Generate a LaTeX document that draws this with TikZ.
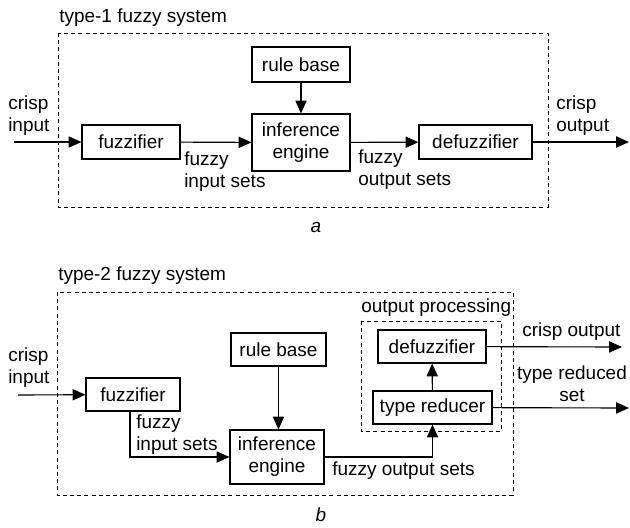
\documentclass[tikz,border=0pt]{standalone}
\usepackage{fontspec}
\setmainfont{Liberation Sans}
\usetikzlibrary{arrows.meta}
\tikzset{
  blk/.style={draw,line width=0.8pt,inner sep=0pt,align=center},
  dbox/.style={draw,line width=0.65pt,dash pattern=on 1mm off 0.8mm},
  arr/.style={line width=0.8pt,-{Triangle[length=3.2mm,width=2.8mm]}},
  lbl/.style={inner sep=0pt,align=left,font=\fontsize{13.5}{15.6}\selectfont},
}

\begin{document}
\begin{tikzpicture}[x=0.025cm,y=-0.025cm,font=\fontsize{13.5}{15.6}\selectfont]
      \useasboundingbox (0,0) rectangle (630,527);

      % type-1
      \node[lbl,anchor=west] (titleA) at (59,18) {type-1 fuzzy system};
      \draw[dbox] (58,33) rectangle (548,207);
      \coordinate (inA) at (14,142);
      \coordinate (outA) at (629,142);
      \node[blk,minimum width=2.45cm,minimum height=0.85cm] (fuzA) at (131,142) {fuzzifier};
      \node[blk,minimum width=2.45cm,minimum height=0.875cm] (ruleA) at (301,64.5) {rule base};
      \node[blk,minimum width=2.45cm,minimum height=1.425cm] (infA) at (301,142.5) {inference\\engine};
      \node[blk,minimum width=2.825cm,minimum height=0.85cm] (defA) at (475.5,142) {defuzzifier};
      \node[lbl,anchor=west] (cinA) at (8,116) {crisp\\input};
      \node[lbl,anchor=west] (fisA) at (184,172) {fuzzy\\input sets};
      \node[lbl,anchor=west] (fosA) at (358,170) {fuzzy\\output sets};
      \node[lbl,anchor=west] (coutA) at (556,116) {crisp\\output};
      \node[lbl] (capA) at (316,227) {\itshape a};
      \draw[arr] (inA) -- (fuzA);
      \draw[arr] (fuzA) -- (infA);
      \draw[arr] (ruleA) -- (infA);
      \draw[arr] (infA) -- (defA);
      \draw[arr] (defA) -- (outA);

      % type-2
      \node[lbl,anchor=west] (titleB) at (58,276) {type-2 fuzzy system};
      \draw[dbox] (57,292) rectangle (513,495);
      \node[lbl,anchor=west] (procB) at (361,308) {output processing};
      \draw[dbox] (361,321) rectangle (501,431);
      \coordinate (inB) at (18,395);
      \coordinate (outB) at (622,347);
      \coordinate (trsB) at (629,408);
      \node[blk,minimum width=2.35cm,minimum height=0.825cm] (fuzB) at (133,394.5) {fuzzifier};
      \node[blk,minimum width=2.375cm,minimum height=0.825cm] (ruleB) at (278.5,349.5) {rule base};
      \node[blk,minimum width=2.35cm,minimum height=1.35cm] (infB) at (277,457) {inference\\engine};
      \node[blk,minimum width=2.7cm,minimum height=0.825cm] (defB) at (432,346.5) {defuzzifier};
      \node[blk,minimum width=2.975cm,minimum height=0.825cm] (redB) at (432.5,407.5) {type reducer};
      \node[lbl,anchor=west] (cinB) at (8,368) {crisp\\input};
      \node[lbl,anchor=west] (fisB) at (136,434.5) {fuzzy\\input sets};
      \node[lbl,anchor=west] (fosB) at (332,471) {fuzzy output sets};
      \node[lbl,anchor=west] (coutB) at (522,332) {crisp output};
      \node[lbl,align=center] (trsetB) at (572,384) {type reduced\\set};
      \node[lbl] (capB) at (321,515) {\itshape b};
      \draw[arr] (inB) -- (fuzB);
      \draw[arr] ([xshift=-3*0.025cm]fuzB.south) |- (infB.west);
      \draw[arr] (ruleB.south) -- (ruleB.south |- infB.north);
      \draw[arr] (infB.east) -| (redB.south);
      \draw[arr] (redB) -- (defB);
      \draw[arr] (defB) -- (outB);
      \draw[arr] (redB) -- (trsB);
    \end{tikzpicture}
\end{document}
